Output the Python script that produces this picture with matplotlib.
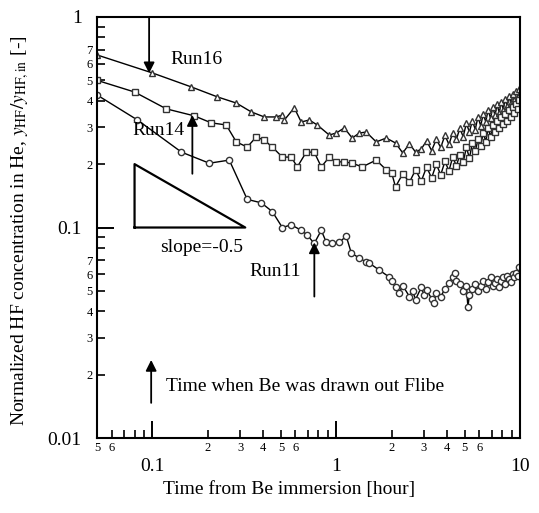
import matplotlib
matplotlib.use('Agg')
import matplotlib.pyplot as plt

plt.rcParams['font.family'] = ['Liberation Serif', 'DejaVu Serif']
plt.rcParams['mathtext.fontset'] = 'stix'

# Run16 (triangles)
run16_x = [0.05, 0.100, 0.163, 0.226, 0.286, 0.345, 0.406, 0.472, 0.509, 0.522, 0.591,
           0.645, 0.713, 0.788, 0.916, 1.0, 1.105, 1.222, 1.334, 1.455, 1.649, 1.870,
           2.1, 2.3, 2.5, 2.7, 2.9, 3.1, 3.3, 3.5, 3.7, 3.9, 4.1, 4.3, 4.5, 4.7, 4.9,
           5.1, 5.3, 5.5, 5.7, 5.9, 6.1, 6.3, 6.5, 6.7, 6.9, 7.1, 7.3, 7.5, 7.7, 7.9,
           8.1, 8.3, 8.5, 8.7, 8.9, 9.1, 9.3, 9.5, 9.7, 9.9]
run16_y = [0.66, 0.542, 0.465, 0.417, 0.390, 0.354, 0.335, 0.335, 0.342, 0.324, 0.370,
           0.317, 0.324, 0.307, 0.275, 0.281, 0.297, 0.266, 0.281, 0.284, 0.255, 0.266,
           0.252, 0.226, 0.250, 0.228, 0.236, 0.258, 0.232, 0.262, 0.240, 0.274, 0.248,
           0.282, 0.262, 0.296, 0.270, 0.312, 0.284, 0.322, 0.292, 0.336, 0.304, 0.346,
           0.318, 0.362, 0.330, 0.372, 0.342, 0.384, 0.350, 0.396, 0.362, 0.408, 0.378,
           0.420, 0.390, 0.432, 0.402, 0.444, 0.418, 0.455]

# Run14 (squares)
run14_x = [0.05, 0.080, 0.119, 0.169, 0.209, 0.252, 0.286, 0.328, 0.367, 0.406, 0.449,
           0.509, 0.569, 0.614, 0.687, 0.759, 0.829, 0.916, 1.0, 1.105, 1.222, 1.384,
           1.649, 1.870, 2.0, 2.1, 2.3, 2.5, 2.7, 2.9, 3.1, 3.3, 3.5, 3.7, 3.9, 4.1,
           4.3, 4.5, 4.7, 4.9, 5.1, 5.3, 5.5, 5.7, 5.9, 6.1, 6.3, 6.5, 6.7, 6.9, 7.1,
           7.3, 7.5, 7.7, 7.9, 8.1, 8.3, 8.5, 8.7, 8.9, 9.1, 9.3, 9.5, 9.7, 9.9]
run14_y = [0.50, 0.44, 0.366, 0.339, 0.314, 0.307, 0.255, 0.241, 0.269, 0.260, 0.241,
           0.216, 0.216, 0.194, 0.228, 0.228, 0.194, 0.216, 0.205, 0.205, 0.202, 0.194,
           0.209, 0.188, 0.182, 0.156, 0.180, 0.164, 0.188, 0.166, 0.194, 0.172, 0.200,
           0.178, 0.206, 0.186, 0.216, 0.196, 0.222, 0.204, 0.240, 0.214, 0.252, 0.230,
           0.262, 0.244, 0.282, 0.256, 0.296, 0.270, 0.306, 0.284, 0.322, 0.296, 0.336,
           0.310, 0.346, 0.322, 0.360, 0.336, 0.372, 0.350, 0.384, 0.366, 0.405]

# Run11 (circles)
run11_x = [0.05, 0.083, 0.144, 0.204, 0.262, 0.328, 0.391, 0.449, 0.509, 0.569, 0.645,
           0.696, 0.759, 0.829, 0.883, 0.951, 1.038, 1.133, 1.207, 1.334, 1.455, 1.511,
           1.713, 1.941, 2.0, 2.1, 2.2, 2.3, 2.5, 2.6, 2.7, 2.9, 3.0, 3.1, 3.3, 3.4,
           3.5, 3.7, 3.9, 4.1, 4.3, 4.4, 4.5, 4.7, 4.9, 5.1, 5.2, 5.3, 5.5, 5.7, 5.9,
           6.1, 6.3, 6.5, 6.7, 6.9, 7.1, 7.3, 7.5, 7.7, 7.9, 8.1, 8.3, 8.5, 8.7, 8.9,
           9.1, 9.3, 9.5, 9.7, 9.9]
run11_y = [0.426, 0.324, 0.228, 0.202, 0.209, 0.136, 0.131, 0.119, 0.100, 0.103, 0.097,
           0.092, 0.084, 0.097, 0.085, 0.084, 0.085, 0.091, 0.0757, 0.0716, 0.0686, 0.0678,
           0.0628, 0.0582, 0.0560, 0.0520, 0.0489, 0.0530, 0.0470, 0.0500, 0.0455, 0.0520,
           0.0480, 0.0505, 0.0460, 0.0440, 0.0490, 0.0470, 0.0510, 0.0545, 0.0580, 0.0610,
           0.0560, 0.0540, 0.0500, 0.0530, 0.0419, 0.0480, 0.0510, 0.0540, 0.0500, 0.0530,
           0.0560, 0.0510, 0.0550, 0.0580, 0.0530, 0.0545, 0.0570, 0.0520, 0.0560, 0.0580,
           0.0540, 0.0590, 0.0570, 0.0550, 0.0600, 0.0580, 0.0610, 0.0590, 0.0650]

# slope=-0.5 triangle
tri_x = [0.08, 0.08, 0.32, 0.08]
tri_y = [0.1, 0.2, 0.1, 0.1]

x_minor = [0.05, 0.06, 0.07, 0.08, 0.09, 0.2, 0.3, 0.4, 0.5, 0.6, 0.7, 0.8, 0.9,
           2, 3, 4, 5, 6, 7, 8, 9]
x_minor_lab = ['5', '6', '', '', '', '2', '3', '4', '5', '6', '', '', '',
               '2', '3', '4', '5', '6', '', '', '']
y_minor = [0.02, 0.03, 0.04, 0.05, 0.06, 0.07, 0.08, 0.09,
           0.2, 0.3, 0.4, 0.5, 0.6, 0.7, 0.8, 0.9]
y_minor_lab = ['2', '3', '4', '5', '6', '7', '', '',
               '2', '3', '4', '5', '6', '7', '', '']

fig = plt.figure(figsize=(5.39, 5.13), dpi=100)
ax = fig.add_axes([0.18, 0.146, 0.785, 0.821])
ax.set_xscale('log')
ax.set_yscale('log')
ax.set_xlim(0.05, 10)
ax.set_ylim(0.01, 1)

mk = dict(color='black', lw=1.0, markersize=4.5, markerfacecolor='white',
          markeredgecolor='#333333', markeredgewidth=1.0)
ax.plot(run16_x, run16_y, marker='^', **mk)
ax.plot(run14_x, run14_y, marker='s', **mk)
ax.plot(run11_x, run11_y, marker='o', **mk)

ax.plot(tri_x, tri_y, color='black', lw=1.6)

for sp in ax.spines.values():
    sp.set_linewidth(1.5)

ax.set_xticks([0.1, 1, 10])
ax.set_xticklabels(['0.1', '1', '10'])
ax.set_xticks(x_minor, minor=True)
ax.set_xticklabels(x_minor_lab, minor=True)
ax.set_yticks([0.01, 0.1, 1])
ax.set_yticklabels(['0.01', '0.1', '1'])
ax.set_yticks(y_minor, minor=True)
ax.set_yticklabels(y_minor_lab, minor=True)

ax.tick_params(which='major', direction='in', length=12, width=1.4, labelsize=14, pad=14)
ax.tick_params(axis='y', which='major', pad=11)
ax.tick_params(which='minor', direction='in', length=6, width=1.2, labelsize=9, pad=3)
ax.tick_params(top=False, right=False)

arr = dict(arrowstyle='-|>', color='black', lw=1.3, mutation_scale=16, shrinkA=0, shrinkB=0)
ax.annotate('', xy=(0.096, 0.54), xytext=(0.096, 1.0), arrowprops=arr)
ax.annotate('', xy=(0.165, 0.342), xytext=(0.165, 0.18), arrowprops=arr)
ax.annotate('', xy=(0.76, 0.085), xytext=(0.76, 0.047), arrowprops=arr)
ax.annotate('', xy=(0.0985, 0.0235), xytext=(0.0985, 0.0147), arrowprops=arr)

ax.text(0.173, 0.625, 'Run16', fontsize=14, ha='center', va='center')
ax.text(0.108, 0.29, 'Run14', fontsize=14, ha='center', va='center')
ax.text(0.466, 0.0615, 'Run11', fontsize=14, ha='center', va='center')
ax.text(0.185, 0.080, 'slope=-0.5', fontsize=14, ha='center', va='center')
ax.text(0.119, 0.0175, 'Time when Be was drawn out Flibe', fontsize=14, ha='left', va='center')

fig.text(0.037, 0.55, r'Normalized HF concentration in He, $y_{\mathrm{HF}}/y_{\mathrm{HF,in}}$ [-]',
         rotation=90, fontsize=14, ha='center', va='center')
fig.text(0.536, 0.045, 'Time from Be immersion [hour]', fontsize=14, ha='center', va='center')

fig.savefig('out.png', dpi=100)
